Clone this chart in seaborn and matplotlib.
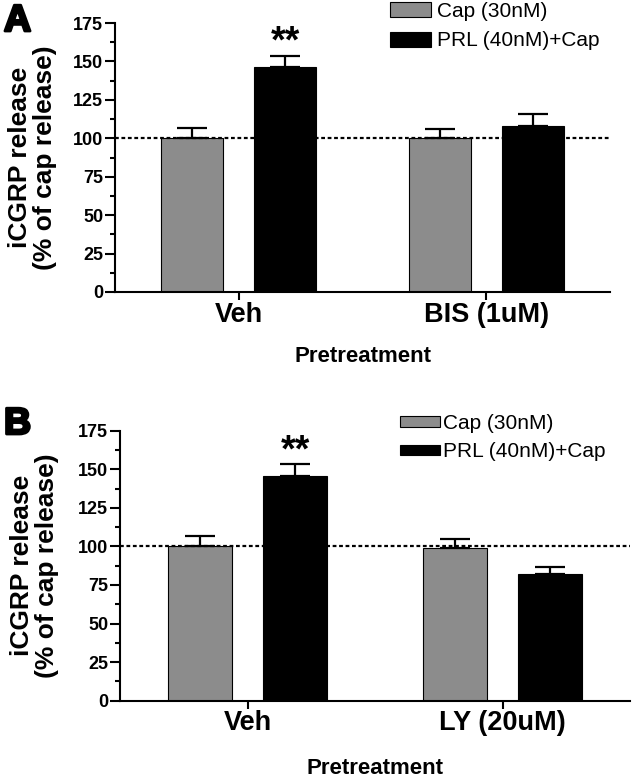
import matplotlib
matplotlib.use("Agg")
import matplotlib.pyplot as plt
import matplotlib.patheffects as pe
from matplotlib.ticker import MultipleLocator
import seaborn as sns
import pandas as pd

# ---- data ----
groups = ["Cap (30nM)", "PRL (40nM)+Cap"]

cats_a = ["Veh", "BIS (1uM)"]
cap_a = [100, 100]
cap_err_a = [6.9, 5.8]
prl_a = [146.6, 108.0]
prl_err_a = [7.2, 7.6]

cats_b = ["Veh", "LY (20uM)"]
cap_b = [100, 99.2]
cap_err_b = [6.7, 5.4]
prl_b = [145.8, 82.1]
prl_err_b = [7.4, 4.3]

yticks = [0, 25, 50, 75, 100, 125, 150, 175]
ylabel = "iCGRP release\n(% of cap release)"
xlabel = "Pretreatment"
colors = {"Cap (30nM)": "#8c8c8c", "PRL (40nM)+Cap": "#000000"}

sns.set_style("ticks")
plt.rcParams["font.family"] = ["Liberation Sans", "DejaVu Sans"]
for k in ["text.color", "axes.labelcolor", "xtick.color", "ytick.color",
          "axes.edgecolor"]:
    plt.rcParams[k] = "black"

fig = plt.figure(figsize=(6.33, 7.79), dpi=100)
W, H = 633, 779


def px_axes(l, t, r, b):
    return fig.add_axes([l / W, 1 - b / H, (r - l) / W, (b - t) / H])


def panel(ax, cats, cap, cap_err, prl, prl_err, star_cat):
    df = pd.DataFrame({
        "cat": cats + cats,
        "grp": [groups[0]] * len(cats) + [groups[1]] * len(cats),
        "val": cap + prl,
    })
    sns.barplot(data=df, x="cat", y="val", hue="grp", order=cats,
                hue_order=groups, palette=colors, width=0.75, gap=1 / 3,
                edgecolor="black", linewidth=0.8, errorbar=None, ax=ax,
                saturation=1, zorder=2)
    errs = [cap_err, prl_err]
    for cont, err in zip(ax.containers, errs):
        xs = [p.get_x() + p.get_width() / 2 for p in cont.patches]
        hs = [p.get_height() for p in cont.patches]
        ax.errorbar(xs, hs, yerr=[[0] * len(err), err], fmt="none",
                    ecolor="black", elinewidth=1.6, capsize=10.5,
                    capthick=1.6, zorder=4)
    ax.axhline(100, color="black", lw=1.6, ls=(0, (1.7, 1.2)), zorder=3)
    # significance stars
    i = cats.index(star_cat)
    p = ax.containers[1].patches[i]
    ax.text(p.get_x() + p.get_width() / 2, prl[i] + prl_err[i] + 2.0, "**",
            ha="center", va="baseline", fontsize=27, fontweight="bold")
    ax.set_xlim(-0.5, 1.5)
    ax.set_ylim(0, 175)
    ax.set_yticks(yticks)
    ax.yaxis.set_minor_locator(MultipleLocator(12.5))
    ax.tick_params(axis="y", which="major", length=7, width=1.5, pad=1.5,
                   labelsize=13)
    ax.tick_params(axis="y", which="minor", length=3.5, width=1.5)
    ax.tick_params(axis="x", length=6, width=1.5, pad=1, labelsize=19.5)
    for lab in ax.get_xticklabels() + ax.get_yticklabels():
        lab.set_fontweight("bold")
    for s in ["left", "bottom"]:
        ax.spines[s].set_linewidth(1.5)
    sns.despine(ax=ax)
    ax.set_ylabel(ylabel, fontsize=19, fontweight="bold", linespacing=1.05)
    ax.set_xlabel(xlabel, fontsize=16, fontweight="bold", va="top")
    ax.get_legend().remove()


ax_a = px_axes(115, 23, 610, 292)
panel(ax_a, cats_a, cap_a, cap_err_a, prl_a, prl_err_a, "Veh")
ax_a.yaxis.set_label_coords(-0.117, 0.5)
ax_a.xaxis.set_label_coords(0.5, -0.2)
h, l = ax_a.get_legend_handles_labels()
ax_a.legend(h, l, loc="upper left", bbox_to_anchor=(390 / W, 1 - 2 / H),
            bbox_transform=fig.transFigure, frameon=False, fontsize=15,
            borderpad=0, borderaxespad=0, handlelength=1.95,
            handleheight=0.75, handletextpad=0.3, labelspacing=0.5)

ax_b = px_axes(120, 430.7, 630, 700.7)
panel(ax_b, cats_b, cap_b, cap_err_b, prl_b, prl_err_b, "Veh")
ax_b.yaxis.set_label_coords(-0.12, 0.5)
ax_b.xaxis.set_label_coords(0.5, -0.212)
h, l = ax_b.get_legend_handles_labels()
ax_b.legend(h, l, loc="upper left", bbox_to_anchor=(400 / W, 1 - 414 / H),
            bbox_transform=fig.transFigure, frameon=False, fontsize=15,
            borderpad=0, borderaxespad=0, handlelength=1.92,
            handleheight=0.42, handletextpad=0.15, labelspacing=0.45)

for letter, ytop in [("A", 1 - 3 / H), ("B", 1 - 406 / H)]:
    fig.text(4 / W, ytop, letter, ha="left", va="top", fontsize=27,
             fontweight="bold", color="black",
             path_effects=[pe.withStroke(linewidth=2, foreground="black")])

fig.savefig("out.png", dpi=100)
